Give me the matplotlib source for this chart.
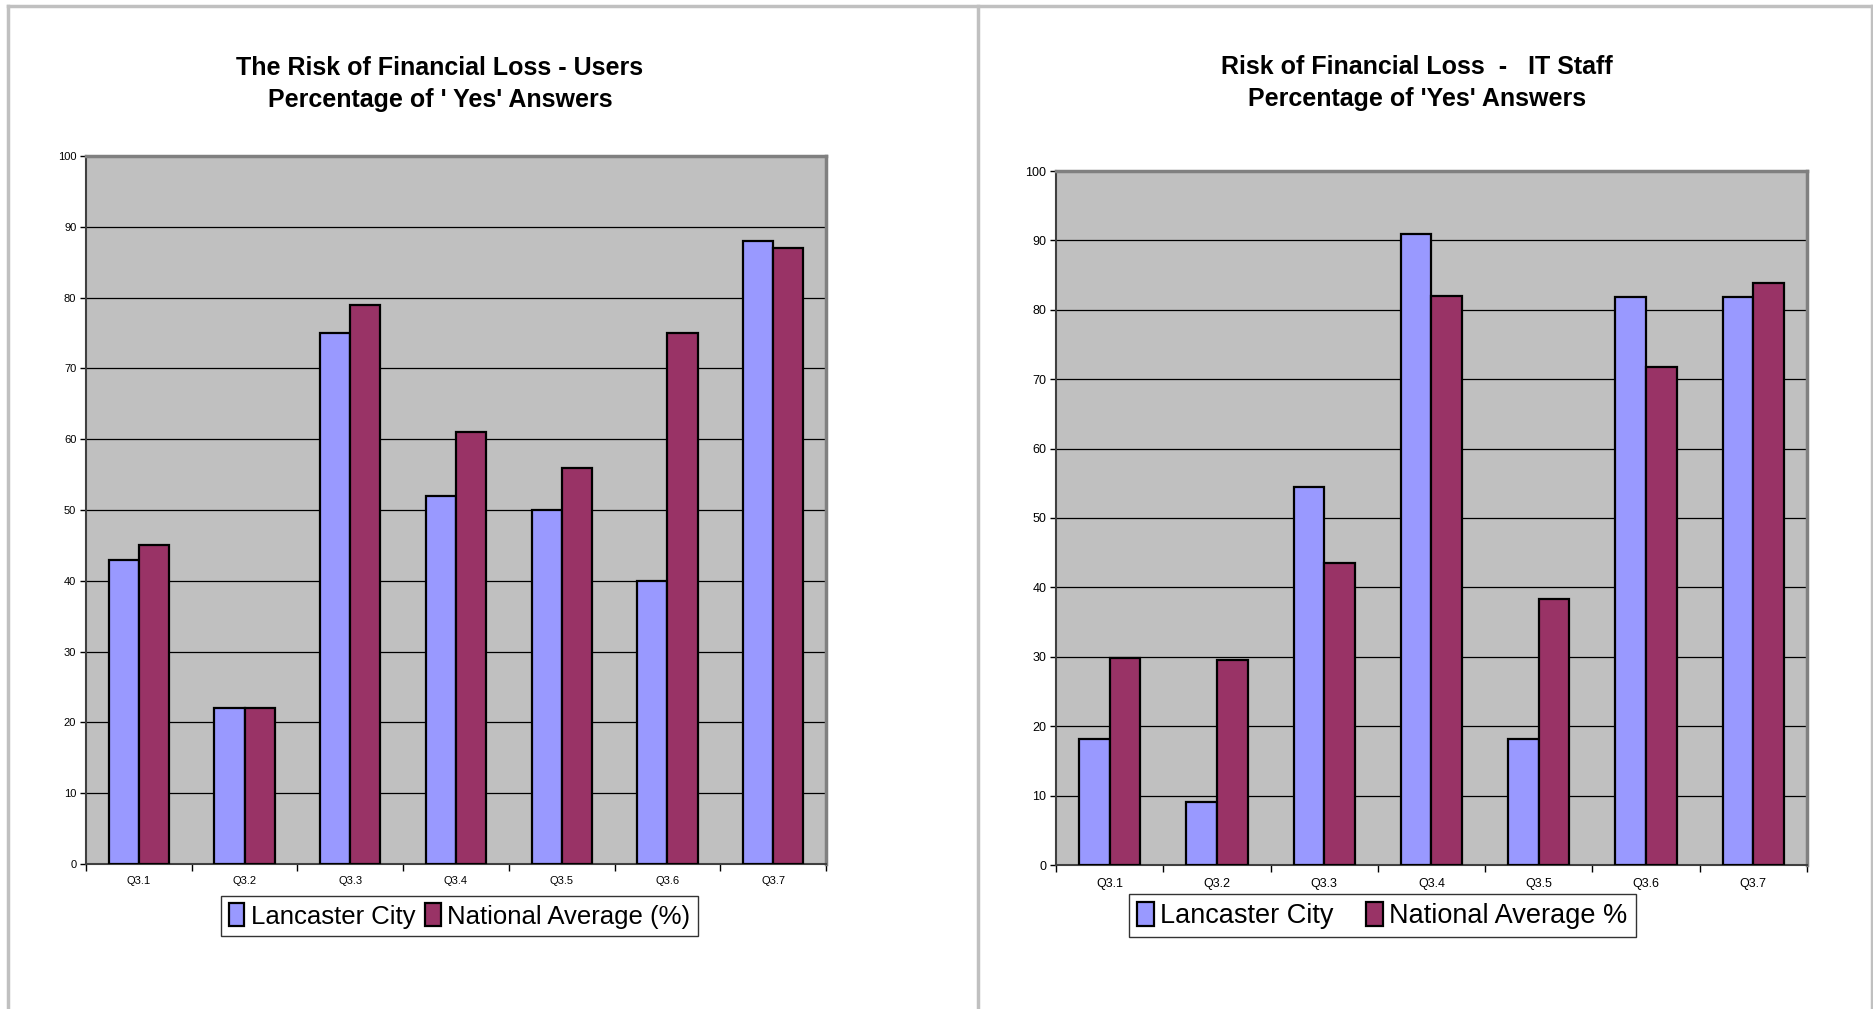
import numpy as np
import matplotlib
matplotlib.use("Agg")
import matplotlib.pyplot as plt
from matplotlib.lines import Line2D
from matplotlib.patches import Patch

plt.rcParams["font.family"] = ["Liberation Sans", "DejaVu Sans"]

# Data
questions = ["Q3.1", "Q3.2", "Q3.3", "Q3.4", "Q3.5", "Q3.6", "Q3.7"]
users_lancaster = [43, 22, 75, 52, 50, 40, 88]
users_national = [45, 22, 79, 61, 56, 75, 87]
staff_lancaster = [18.2, 9.1, 54.5, 90.9, 18.2, 81.8, 81.8]
staff_national = [29.8, 29.5, 43.5, 82.0, 38.4, 71.8, 83.8]

LANC = "#9999FF"
NAT = "#993366"
BG = "#C0C0C0"
W, H = 1874, 1009


def fx(px):
    return px / W


def fy(py):
    return 1 - py / H


def draw_panel(fig, rect, lanc, nat, tick_size):
    ax = fig.add_axes(rect)
    x = np.arange(len(questions))
    bw = 0.285
    ax.bar(x - bw / 2, lanc, bw, color=LANC, edgecolor="black", linewidth=1.6, zorder=3)
    ax.bar(x + bw / 2, nat, bw, color=NAT, edgecolor="black", linewidth=1.6, zorder=3)
    ax.set_facecolor(BG)
    ax.set_xlim(-0.5, len(questions) - 0.5)
    ax.set_ylim(0, 100)
    ax.set_yticks(np.arange(0, 101, 10))
    ax.yaxis.grid(True, color="black", linewidth=0.9, zorder=1)
    ax.set_axisbelow(True)
    # category boundary ticks, labels centred
    ax.set_xticks(np.arange(-0.5, len(questions), 1.0))
    ax.set_xticklabels([])
    ax.set_xticks(x, minor=True)
    ax.set_xticklabels(questions, minor=True, fontsize=tick_size)
    ax.tick_params(axis="x", which="minor", length=0, pad=9)
    ax.tick_params(axis="x", which="major", length=5, width=1, direction="out")
    ax.tick_params(axis="y", length=4, width=1, direction="out", labelsize=tick_size, pad=3)
    for s in ["top", "right"]:
        ax.spines[s].set_color("#808080")
        ax.spines[s].set_linewidth(2.5)
    ax.spines["left"].set_color("#404040")
    ax.spines["left"].set_linewidth(1.5)
    ax.spines["bottom"].set_color("#404040")
    ax.spines["bottom"].set_linewidth(1.5)
    return ax


def main():
    fig = plt.figure(figsize=(W / 100, H / 100), dpi=100)

    # page borders
    for xs, ys in [((8, 8), (5.5, H)), ((978.5, 978.5), (5.5, H)),
                   ((1872, 1872), (5.5, H)), ((8, 1872), (5.5, 5.5))]:
        fig.add_artist(Line2D([fx(xs[0]), fx(xs[1])], [fy(ys[0]), fy(ys[1])],
                              color="#C0C0C0", linewidth=2.5))

    draw_panel(fig, [fx(86), fy(864), fx(826 - 86), (864 - 156) / H],
               users_lancaster, users_national, 8)
    draw_panel(fig, [fx(1056), fy(865), fx(1807 - 1056), (865 - 171) / H],
               staff_lancaster, staff_national, 9)

    fig.text(fx(440), fy(84), "The Risk of Financial Loss - Users\nPercentage of ' Yes' Answers",
             ha="center", va="center", fontsize=18, fontweight="bold", linespacing=1.42)
    fig.text(fx(1417), fy(83), "Risk of Financial Loss  -   IT Staff\nPercentage of 'Yes' Answers",
             ha="center", va="center", fontsize=18, fontweight="bold", linespacing=1.42)

    def legend(labels, cx, cy, size, colsp):
        handles = [Patch(facecolor=LANC, edgecolor="black", linewidth=1.6),
                   Patch(facecolor=NAT, edgecolor="black", linewidth=1.6)]
        leg = fig.legend(handles, labels, loc="center", bbox_to_anchor=(fx(cx), fy(cy)),
                         fontsize=size, frameon=True, fancybox=False, shadow=False,
                         ncol=2, handlelength=0.6, handleheight=1.0, handletextpad=0.25,
                         columnspacing=colsp, borderpad=0.3, borderaxespad=0)
        leg.get_frame().set_edgecolor("black")
        leg.get_frame().set_linewidth(1.0)

    legend(["Lancaster City", "National Average (%)"], 459.5, 916, 18.5, 0.4)
    legend(["Lancaster City", "National Average %"], 1382.5, 915.5, 19.5, 1.2)

    fig.savefig("out.png", dpi=100)


if __name__ == "__main__":
    main()
